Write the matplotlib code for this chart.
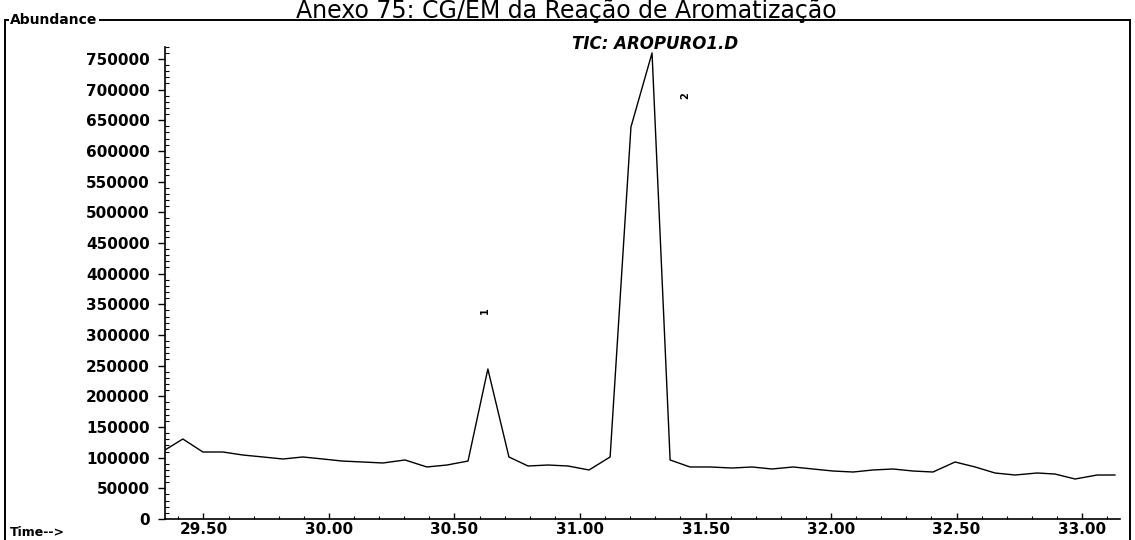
import numpy as np
import matplotlib
matplotlib.use("Agg")
import matplotlib.pyplot as plt
from matplotlib.patches import Rectangle
from matplotlib.ticker import MultipleLocator, FixedLocator

# TIC trace: retention time (min) vs abundance
time_min = [29.347, 29.418, 29.498, 29.578, 29.657, 29.737, 29.817, 29.896,
            29.976, 30.052, 30.135, 30.215, 30.303, 30.390, 30.470, 30.554,
            30.633, 30.717, 30.793, 30.873, 30.952, 31.036, 31.120, 31.203,
            31.287, 31.359, 31.438, 31.518, 31.606, 31.685, 31.765, 31.849,
            31.928, 32.008, 32.088, 32.167, 32.247, 32.327, 32.406, 32.494,
            32.574, 32.653, 32.733, 32.821, 32.892, 32.972, 33.060, 33.131]
abundance = [112500, 130400, 109200, 109200, 104300, 101100, 97800, 101100,
             97800, 94500, 92900, 91300, 96200, 84800, 88000, 94500,
             244500, 101100, 86400, 88000, 86400, 79900, 101100, 639000,
             759600, 96200, 84800, 84800, 83100, 84800, 81500, 84800,
             81500, 78200, 76600, 79900, 81500, 78200, 76600, 92900,
             84800, 75000, 71700, 75000, 73300, 65200, 71700, 71700]

# peak numbers and where they sit
peak_labels = ["1", "2"]
peak_label_t = [30.62, 31.42]
peak_label_y = [340000, 690000]

x_ticks = [29.5, 30.0, 30.5, 31.0, 31.5, 32.0, 32.5, 33.0]
y_ticks = list(range(0, 800000, 50000))

W, H = 1135, 540
TOP = 20  # frame top, px from the top edge
fig = plt.figure(figsize=(W / 100, H / 100), dpi=100)
fig.patch.set_facecolor("white")

ax = fig.add_axes([165 / W, (H - 519) / H, (1120 - 165) / W, (519 - TOP) / H])
ax.plot(time_min, abundance, color="black", lw=1.0)

ax.set_xlim(29.347, 33.151)
ax.set_ylim(0, (519 - TOP) * 1630)

for s in ["top", "right"]:
    ax.spines[s].set_visible(False)
ax.spines["left"].set_linewidth(1.2)
ax.spines["bottom"].set_linewidth(1.2)
ax.spines["left"].set_bounds(0, 770000)

tick_font = dict(family="DejaVu Sans", weight="bold", size=11)
ax.yaxis.set_major_locator(FixedLocator(y_ticks))
ax.yaxis.set_minor_locator(FixedLocator(list(range(0, 770001, 10000))))
ax.set_yticklabels([str(v) for v in y_ticks], fontdict=tick_font)
ax.xaxis.set_major_locator(FixedLocator(x_ticks))
ax.xaxis.set_minor_locator(MultipleLocator(0.1))
ax.set_xticklabels(["%.2f" % v for v in x_ticks], fontdict=tick_font)

ax.tick_params(axis="y", which="major", direction="out", length=5, width=1, pad=6)
ax.tick_params(axis="y", which="minor", direction="in", length=3, width=0.8)
ax.tick_params(axis="x", which="major", direction="in", length=4, width=1, pad=2)
ax.tick_params(axis="x", which="minor", direction="in", length=2, width=0.8)

for lab, t, y in zip(peak_labels, peak_label_t, peak_label_y):
    ax.text(t, y, lab, rotation=90, ha="center", va="center",
            fontsize=7, fontweight="bold", color="black")

ax.text(31.3, 775000, "TIC: AROPURO1.D", ha="center", va="center",
        fontsize=12, fontweight="bold", fontstyle="italic", color="black")

# outer frame around the plot area
frame = Rectangle((5 / W, -0.05), (1130 - 5) / W, (H - TOP) / H + 0.05,
                  transform=fig.transFigure, fill=False, lw=1.4,
                  edgecolor="black")
fig.patches.append(frame)

fig.text(10 / W, (H - TOP) / H, "Abundance", ha="left", va="center",
         fontsize=10, fontweight="bold",
         bbox=dict(facecolor="white", edgecolor="none", pad=1))
fig.text(10 / W, (H - 532) / H, "Time-->", ha="left", va="center",
         fontsize=9, fontweight="bold")

fig.text(566 / W, (H - 18) / H, "Anexo 75: CG/EM da Reação de Aromatização",
         ha="center", va="baseline", fontsize=17, color="black")

fig.savefig("out.png", dpi=100)
